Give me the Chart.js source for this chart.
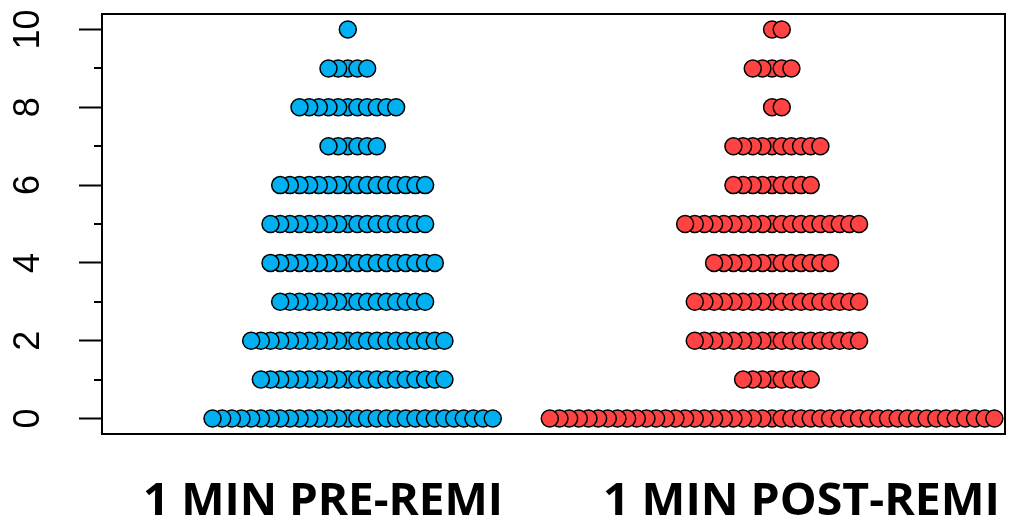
<!DOCTYPE html>
<html><head><meta charset="utf-8">
<script src="https://cdn.jsdelivr.net/npm/chart.js@4"></script>
<style>html,body{margin:0;padding:0;background:#fff;} #wrap{width:1015px;height:522px;}</style>
</head><body><div id="wrap"><canvas id="c" width="1015" height="522"></canvas></div>
<script>
const categories = ['1 MIN PRE-REMI', '1 MIN POST-REMI'];
const scoreLevels = [0, 1, 2, 3, 4, 5, 6, 7, 8, 9, 10];
const preCounts  = [30, 20, 21, 16, 18, 17, 16, 6, 11, 5, 1];
const postCounts = [47, 8, 18, 18, 13, 19, 9, 10, 2, 5, 2];
const yTickLabels = [0, 2, 4, 6, 8, 10];
const yMinorTicks = [1, 3, 5, 7, 9];

const STEP = 0.02278; // horizontal dot spacing in x-scale units

function swarm(groupX, counts) {
  const pts = [];
  counts.forEach((n, li) => {
    const y = scoreLevels[li];
    const offs = [];
    let centre;
    if (n % 2) { for (let k = -(n - 1) / 2; k <= (n - 1) / 2; k++) offs.push(k); centre = 0; }
    else { for (let k = -(n / 2 - 1); k <= n / 2; k++) offs.push(k); centre = 0.5; }
    offs.sort((a, b) => Math.abs(a - centre) - Math.abs(b - centre) || a - b);
    offs.forEach(k => pts.push({ x: groupX + k * STEP, y }));
  });
  return pts;
}

const framePlugin = {
  id: 'frame',
  beforeDatasetsDraw(chart) {
    const { ctx, chartArea: a, scales: { y } } = chart;
    ctx.save();
    ctx.strokeStyle = '#000';
    ctx.lineWidth = 2;
    ctx.strokeRect(a.left, a.top, a.right - a.left, a.bottom - a.top);
    ctx.beginPath();
    yMinorTicks.forEach(v => {
      const py = Math.round(y.getPixelForValue(v));
      ctx.moveTo(a.left - 8, py);
      ctx.lineTo(a.left, py);
    });
    ctx.stroke();
    ctx.restore();
  },
  afterDraw(chart) {
    const { ctx } = chart;
    const boxes = [[143, 360], [603, 397]];
    ctx.save();
    ctx.font = 'bold 45px "Open Sans"';
    ctx.textAlign = 'left';
    ctx.textBaseline = 'alphabetic';
    ctx.fillStyle = '#000';
    categories.forEach((t, i) => {
      const [x0, w] = boxes[i];
      const m = ctx.measureText(t).width;
      ctx.save();
      ctx.translate(x0, 515);
      ctx.scale(w / m, 1);
      ctx.fillText(t, 0, 0);
      ctx.restore();
    });
    ctx.restore();
  }
};

new Chart(document.getElementById('c'), {
  type: 'scatter',
  data: {
    datasets: [
      { label: categories[0], data: swarm(1, preCounts), backgroundColor: '#00B0F0', borderColor: '#000', borderWidth: 1.5, pointRadius: 8.5, pointHoverRadius: 8.5, clip: false },
      { label: categories[1], data: swarm(2, postCounts), backgroundColor: '#FF4343', borderColor: '#000', borderWidth: 1.5, pointRadius: 8.5, pointHoverRadius: 8.5, clip: false }
    ]
  },
  options: {
    responsive: false,
    animation: false,
    layout: { padding: { top: 14, right: 2, bottom: 88, left: 0 } },
    plugins: { legend: { display: false }, tooltip: { enabled: false } },
    scales: {
      x: { type: 'linear', min: 0.4206, max: 2.549, display: false },
      y: {
        min: -0.4, max: 10.4,
        afterBuildTicks: s => { s.ticks = yTickLabels.map(v => ({ value: v })); },
        afterFit: s => { s.width = 102; s.paddingTop = 0; s.paddingBottom = 0; s.paddingLeft = 0; s.paddingRight = 0; },
        grid: { drawOnChartArea: false, drawTicks: true, tickLength: 23, tickWidth: 2, tickColor: '#000' },
        border: { display: false },
        ticks: { font: { family: 'Liberation Sans', size: 36 }, color: '#000', minRotation: 90, maxRotation: 90, crossAlign: 'center', padding: 30, autoSkip: false }
      }
    }
  },
  plugins: [framePlugin]
});
</script></body></html>
